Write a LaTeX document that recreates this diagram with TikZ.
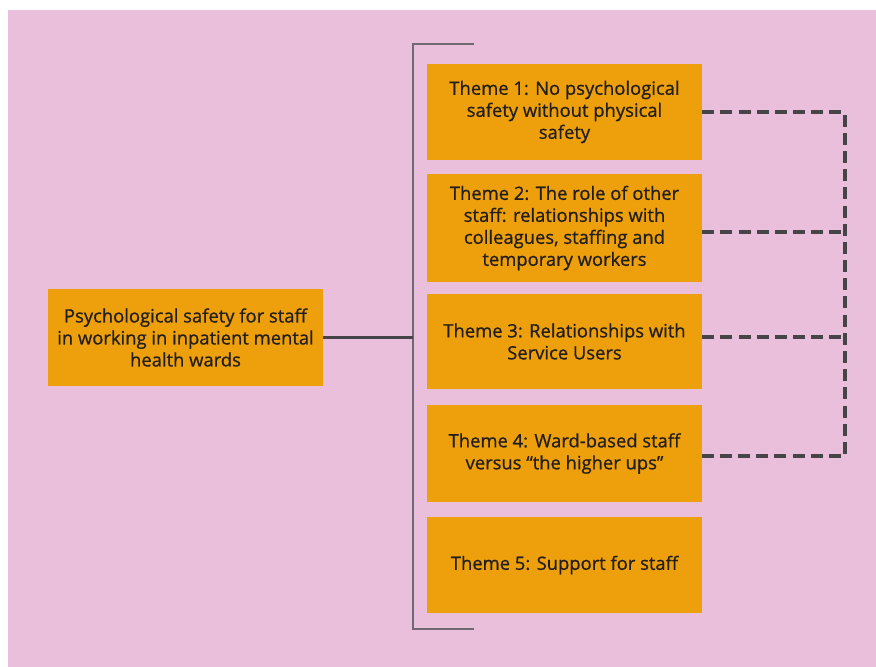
\documentclass[tikz,border=0pt]{standalone}
\usepackage{fontspec}
\setmainfont{Open Sans}
\newfontfamily\themefont{Open Sans}[FakeBold=0.8]
\definecolor{pagepink}{RGB}{234,191,219}
\definecolor{themeorange}{RGB}{237,160,12}
\definecolor{inkgrey}{RGB}{34,30,28}
\definecolor{railgrey}{RGB}{70,68,72}
\definecolor{bracketgrey}{RGB}{112,104,114}
\begin{document}
\begin{tikzpicture}[x=1pt, y=-1pt,
    theme/.style={fill=themeorange, text=inkgrey, align=center, minimum width=275pt, inner sep=0pt,
      font=\themefont\fontsize{18.4}{22}\selectfont},
    link/.style={draw=railgrey, line width=3pt},
    rail/.style={draw=railgrey, line width=3.5pt, dash pattern=on 12pt off 6.18pt},
    bracket/.style={draw=bracketgrey, line width=1.8pt}]
  \useasboundingbox (0,0) rectangle (876,667);
  \fill[pagepink] (8,10) rectangle (876,667);

  \node (topic) at (185.5, 337.5) [theme, minimum height=97pt] {Psychological safety for staff \\ in working in inpatient mental \\ health wards};
  \node (t1) at (564.5, 112) [theme, minimum height=96pt] {Theme 1: No psychological \\ safety without physical \\ safety};
  \node (t2) at (564.5, 228) [theme, minimum height=108pt] {Theme 2: The role of other \\ staff: relationships with \\ colleagues, staffing and \\ temporary workers};
  \node (t3) at (564.5, 341.5) [theme, minimum height=95pt] {Theme 3: Relationships with \\ Service Users};
  \node (t4) at (564.5, 453.5) [theme, minimum height=97pt] {Theme 4: Ward-based staff \\ versus “the higher ups”};
  \node (t5) at (564.5, 565) [theme, minimum height=96pt] {Theme 5: Support for staff};

  \coordinate (spine) at (413, 337.5);
  \coordinate (brtop) at (474, 44);
  \coordinate (brbot) at (474, 629);
  \coordinate (side) at (845, 0);

  \draw[bracket] (brtop) -- (brtop -| spine) -- (brbot -| spine) -- (brbot);
  \draw[link] (topic) -- (spine);

  \draw[rail] (t1.east) -- (t1.east -| side) -- ([yshift=-2.5pt]t4.east -| side) -- ([yshift=-2.5pt]t4.east);
  \draw[rail] ([yshift=-4pt]t2.east) -- ([yshift=-4pt]t2.east -| side);
  \draw[rail] ([yshift=4.5pt]t3.east) -- ([yshift=4.5pt]t3.east -| side);
\end{tikzpicture}
\end{document}
